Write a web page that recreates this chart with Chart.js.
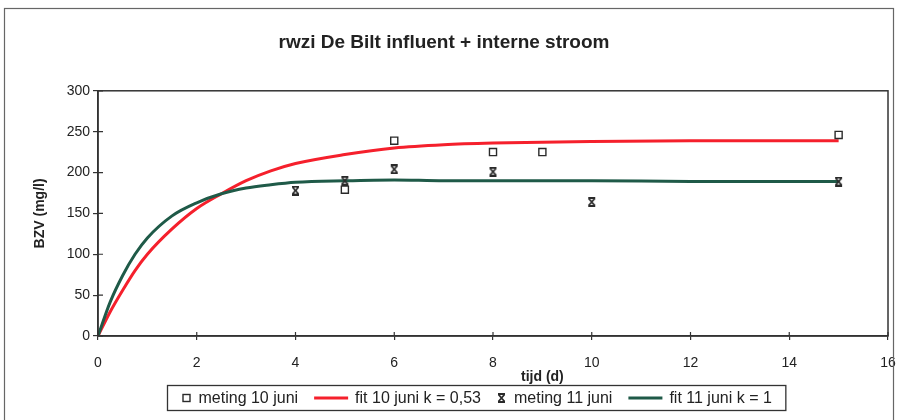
<!DOCTYPE html>
<html lang="nl">
<head>
<meta charset="UTF-8">
<title>rwzi De Bilt influent + interne stroom</title>
<script src="https://cdn.jsdelivr.net/npm/chart.js"></script>
<style>
  html, body { margin: 0; padding: 0; background: #fff; }
</style>
</head>
<body>
<canvas id="grafiek" width="897" height="420"></canvas>
<script>
// metingen 10 juni: tijd (d) en BZV (mg/l)
const meting10T = [5, 6, 8, 9, 15];
const meting10BZV = [179, 239, 225, 225, 246];

// metingen 11 juni
const meting11T = [4, 5, 6, 8, 10, 15];
const meting11BZV = [178, 190, 204, 201, 164, 189];

const fitT = [0, 0.25, 0.5, 0.75, 1, 1.5, 2, 2.5, 3, 3.5, 4, 5, 6, 7, 8, 10, 12, 15];
const fit10BZV = [0, 30, 56, 80, 100, 131, 156, 174, 190, 202, 211, 222, 230, 234, 236, 238, 239, 239];
const fit11BZV = [0, 42, 74, 100, 120, 147, 163, 174, 181, 185, 188, 190, 191, 190, 190, 190, 189, 189];

// as-indeling
const xTicks = [0, 2, 4, 6, 8, 10, 12, 14, 16];
const yTicks = [0, 50, 100, 150, 200, 250, 300];

const FONT = "'Liberation Sans', Arial, sans-serif";
const TEKST = '#222';
const AS = '#333';

// kruisje met streepjes boven en onder (marker 11 juni)
function kruisMarker(kleur) {
    const c = document.createElement('canvas');
    c.width = 9; c.height = 10;
    const g = c.getContext('2d');
    g.strokeStyle = kleur;
    g.lineWidth = 1.8;
    g.beginPath();
    g.moveTo(1.5, 1.5); g.lineTo(7.5, 8.5);
    g.moveTo(7.5, 1.5); g.lineTo(1.5, 8.5);
    g.moveTo(1, 1); g.lineTo(8, 1);
    g.moveTo(1, 9); g.lineTo(8, 9);
    g.stroke();
    return c;
}
const kruis = kruisMarker('#2a2a2a');

function punten(xs, ys) {
    return xs.map((x, i) => ({ x: x, y: ys[i] }));
}

// kader rond het plotgebied, binnenste tickstreepjes en kader rond de figuur
const kaderPlugin = {
    id: 'kader',
    afterDraw(chart) {
        const ctx = chart.ctx;
        const a = chart.chartArea;
        ctx.save();
        ctx.strokeStyle = AS;
        ctx.lineWidth = 1.5;
        ctx.strokeRect(a.left, a.top, a.right - a.left, a.bottom - a.top);

        ctx.lineWidth = 1.2;
        ctx.beginPath();
        yTicks.forEach(v => {
            const y = chart.scales.y.getPixelForValue(v);
            ctx.moveTo(a.left, y); ctx.lineTo(a.left + 5, y);
        });
        xTicks.forEach(v => {
            const x = chart.scales.x.getPixelForValue(v);
            ctx.moveTo(x, a.bottom); ctx.lineTo(x, a.bottom - 4);
        });
        ctx.stroke();

        // buitenkader
        ctx.strokeStyle = '#666';
        ctx.lineWidth = 1.2;
        ctx.strokeRect(4.5, 8.5, 889, 430);

        // x-as titel
        ctx.fillStyle = TEKST;
        ctx.font = 'bold 14px ' + FONT;
        ctx.textAlign = 'center';
        ctx.textBaseline = 'middle';
        ctx.fillText('tijd (d)', chart.scales.x.getPixelForValue(9), 377);
        ctx.restore();
    }
};

// legenda in een kader onder de grafiek
const legendaPlugin = {
    id: 'legenda',
    afterDraw(chart) {
        const ctx = chart.ctx;
        const sets = chart.data.datasets;
        ctx.save();
        ctx.font = '16px ' + FONT;
        const pad = 14, gap = 7, tussen = 16;
        const items = sets.map(ds => {
            const sym = ds.showLine ? 34 : 10;
            return { ds: ds, sym: sym, w: sym + gap + ctx.measureText(ds.label).width };
        });
        const totaal = pad * 2 + items.reduce((s, it) => s + it.w, 0) + tussen * (items.length - 1);
        const midden = 476;
        const links = Math.round(midden - totaal / 2) + 0.5;
        const top = 385.5, hoogte = 25;
        ctx.strokeStyle = AS;
        ctx.lineWidth = 1.3;
        ctx.strokeRect(links, top, totaal, hoogte);

        const yc = top + hoogte / 2;
        let x = links + pad;
        items.forEach(it => {
            const ds = it.ds;
            if (ds.showLine) {
                ctx.strokeStyle = ds.borderColor;
                ctx.lineWidth = 3;
                ctx.beginPath();
                ctx.moveTo(x, yc); ctx.lineTo(x + it.sym, yc);
                ctx.stroke();
            } else if (ds.pointStyle === 'rect') {
                ctx.strokeStyle = ds.pointBorderColor;
                ctx.lineWidth = 1.4;
                ctx.strokeRect(x + 1.5, yc - 3.5, 7, 7);
            } else {
                ctx.drawImage(ds.pointStyle, x, yc - 5);
            }
            ctx.fillStyle = TEKST;
            ctx.textAlign = 'left';
            ctx.textBaseline = 'middle';
            ctx.fillText(ds.label, x + it.sym + gap, yc + 1);
            x += it.w + tussen;
        });
        ctx.restore();
    }
};

new Chart(document.getElementById('grafiek'), {
    type: 'scatter',
    data: {
        datasets: [
            {
                label: 'meting 10 juni',
                data: punten(meting10T, meting10BZV),
                pointStyle: 'rect',
                pointRadius: 5,
                pointBorderColor: '#2a2a2a',
                pointBackgroundColor: 'rgba(0,0,0,0)',
                pointBorderWidth: 1.4,
                showLine: false,
                order: 0
            },
            {
                label: 'fit 10 juni k = 0,53',
                data: punten(fitT, fit10BZV),
                showLine: true,
                borderColor: '#f5202c',
                borderWidth: 3,
                pointRadius: 0,
                cubicInterpolationMode: 'monotone',
                order: 2
            },
            {
                label: 'meting 11 juni',
                data: punten(meting11T, meting11BZV),
                pointStyle: kruis,
                pointRadius: 5,
                showLine: false,
                order: 0
            },
            {
                label: 'fit 11 juni k = 1',
                data: punten(fitT, fit11BZV),
                showLine: true,
                borderColor: '#1f5a48',
                borderWidth: 3,
                pointRadius: 0,
                cubicInterpolationMode: 'monotone',
                order: 1
            }
        ]
    },
    options: {
        responsive: false,
        animation: false,
        layout: { padding: { left: 0, right: 9, top: 0, bottom: 0 } },
        scales: {
            x: {
                type: 'linear',
                min: 0, max: 16,
                afterFit(scale) {
                    scale.height = 84;
                    scale.paddingLeft = 0;
                    scale.paddingRight = 0;
                },
                afterBuildTicks(scale) { scale.ticks = xTicks.map(v => ({ value: v })); },
                border: { color: AS, width: 1.5 },
                grid: { drawOnChartArea: false, drawTicks: true, tickLength: 4, color: AS, lineWidth: 1.2 },
                ticks: { color: TEKST, font: { family: FONT, size: 14 }, padding: 15 }
            },
            y: {
                min: 0, max: 300,
                afterFit(scale) { scale.width = 98; },
                afterBuildTicks(scale) { scale.ticks = yTicks.map(v => ({ value: v })); },
                border: { color: AS, width: 1.5 },
                grid: { drawOnChartArea: false, drawTicks: true, tickLength: 5, color: AS, lineWidth: 1.2 },
                ticks: { color: TEKST, font: { family: FONT, size: 14 }, padding: 3 },
                title: {
                    display: true,
                    text: 'BZV (mg/l)',
                    color: TEKST,
                    font: { family: FONT, size: 14, weight: 'bold' },
                    padding: { top: 32, bottom: 0 }
                }
            }
        },
        plugins: {
            legend: { display: false },
            tooltip: { enabled: false },
            title: {
                display: true,
                text: 'rwzi De Bilt influent + interne stroom',
                color: TEKST,
                font: { family: FONT, size: 19, weight: 'bold' },
                padding: { top: 31, bottom: 37 }
            }
        }
    },
    plugins: [kaderPlugin, legendaPlugin]
});
</script>
</body>
</html>
